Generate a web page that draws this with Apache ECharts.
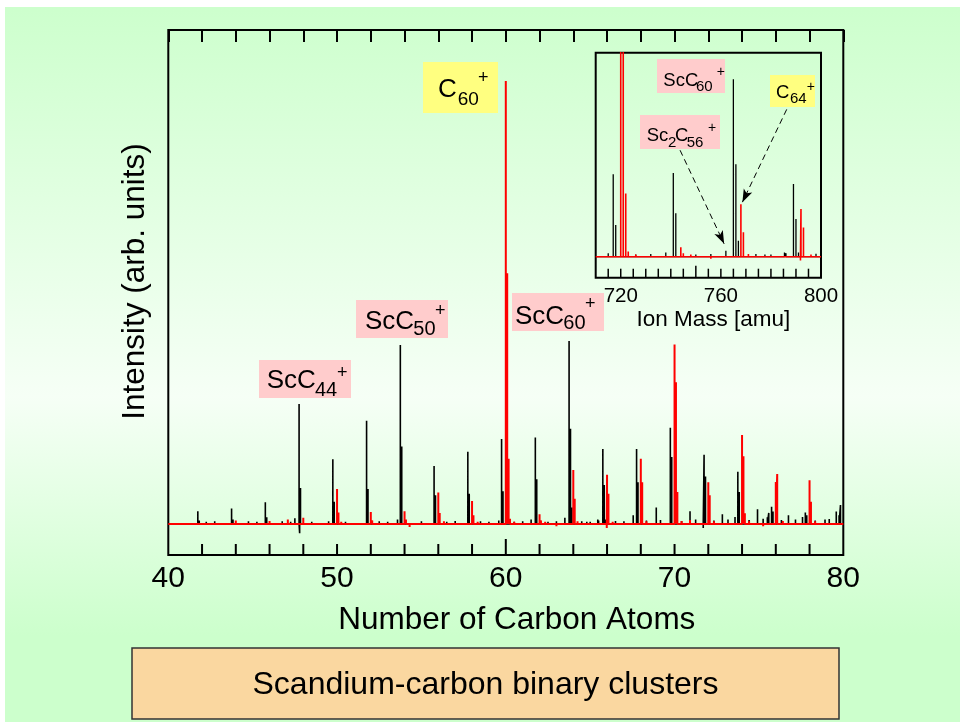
<!DOCTYPE html>
<html>
<head>
<meta charset="utf-8">
<script src="https://cdn.jsdelivr.net/npm/echarts@6/dist/echarts.min.js"></script>
<style>
  html, body { margin: 0; padding: 0; background: #fff; }
  #chart { width: 960px; height: 722px; }
</style>
</head>
<body>
<div id="chart"></div>
<script>
// Time-of-flight mass spectrum of scandium-carbon cluster ions.
// Peak positions are in amu, intensities in arbitrary units (C60+ = 100).

const carbonAxisTicks = [40, 50, 60, 70, 80];
const massAxisTicks = [720, 760, 800];

// ScCn+ / Sc2Cn+ peaks (black trace)
const scPeakAmu = [
  501, 502, 525, 526, 549, 550, 570, 573, 573.4, 574,
  597, 598, 621, 622, 643, 645, 646, 669, 670, 693, 694,
  715, 717, 718, 738, 741, 742, 762, 765, 766, 767,
  777.6, 785.4, 786, 789, 790, 791, 810.6, 813, 814, 827,
  837, 838, 851, 860.4, 861, 862, 874, 883, 885, 886,
  899, 906, 907, 909, 910, 921, 931, 933, 934, 947,
  955, 957, 958
];
const scPeakIntensity = [
  2.9, 0.8, 3.5, 1.0, 4.9, 1.5, 1.3, 27.1, -2.1, 8.1,
  14.6, 5.0, 23.3, 7.9, 1.0, 40.4, 17.5, 13.1, 6.5, 16.3, 6.8,
  0.8, 19.2, 7.4, 1.0, 19.5, 10.1, 1.4, 41.3, 21.5, 3.7,
  0.5, 1.0, 0.8, 16.9, 8.8, 1.0, 2.0, 16.9, 9.4, 3.7,
  21.7, 15.1, 2.9, -0.9, 15.6, 10.7, 2.2, 1.6, 11.8, 7.2,
  3.3, 1.5, 2.5, 3.9, 2.8, 2.0, 1.6, 2.6, 2.0, 1.0,
  2.8, 2.0, 4.3
];
// small baseline ripple on the black trace
const scRippleAmu = [
  486, 494, 507, 513, 519, 531, 537, 543, 555, 561, 567, 582, 588, 594,
  606, 612, 630, 636, 654, 660, 678, 684, 702, 708, 726, 732, 750, 756,
  774, 780, 798, 804, 820, 830, 845, 855, 868, 878, 893, 903, 916, 926,
  940, 950
];
const scRippleIntensity = [
  0.4, 0.3, 0.5, 0.6, 0.3, 0.4, 0.6, 0.5, 0.4, 0.6, 0.5, 0.5, 0.4, 0.6,
  0.5, 0.4, 0.6, 0.5, 0.4, 0.6, 0.5, 0.7, 0.6, 0.5, 0.5, 0.6, 0.5, 0.6,
  0.6, 0.5, 0.7, 0.6, 0.8, 0.9, 0.7, 1.0, 0.8, 1.0, 0.9, 1.2, 0.9, 1.0,
  0.8, 1.1
];

// Cn+ peaks (red trace)
const cPeakAmu = [
  528, 552, 565, 576, 600, 601, 624, 625, 648, 649, 651.6,
  672, 673, 696, 697, 720, 721, 722, 723, 744, 745,
  768, 769, 791.8, 792, 793, 816, 817, 840, 841, 842, 851,
  864, 865, 888, 889, 890, 912, 913, 936, 937
];
const cPeakIntensity = [
  0.8, 0.7, 1.0, 1.4, 7.9, 2.6, 2.7, 0.8, 2.9, 1.0, -0.7,
  7.1, 2.5, 5.2, 2.0, 100, 56.6, 14.7, 1.2, 2.2, 0.8,
  12.2, 5.7, -0.9, 11.1, 6.8, 14.7, 9.4, 40.5, 32.0, 7.2, 0.9,
  9.4, 6.5, 20.1, 15.3, 2.4, 9.5, 11.3, 9.9, 5.0
];
// small baseline ripple on the red trace
const cRippleAmu = [
  490, 502, 515, 540, 560, 580, 590, 603, 615, 627, 640, 660, 676, 684,
  700, 710, 726, 735, 748, 756, 771, 780, 796, 806, 820, 830, 845, 855,
  868, 878, 893, 903, 917, 925, 940, 950
];
const cRippleIntensity = [
  0.3, -0.3, 0.3, -0.3, 0.4, -0.3, 0.3, 0.5, -0.3, 0.4, 0.3, -0.4, 0.6, -0.3,
  0.5, -0.3, 0.5, -0.4, 0.5, -0.5, 0.6, -0.4, 0.5, -0.4, 0.6, -0.4, 0.7, -0.3,
  0.6, -0.4, 0.6, -0.5, 0.7, -0.4, 0.6, -0.4
];

// Arrows in the inset: [fromAmu, fromIntensity, toAmu, toIntensity]
const sc2C56Arrow = [743.7, 24.8, 761.3, 3.0];
const c64Arrow = [786.3, 34.3, 768.6, 12.7];

const FONT = '"Liberation Sans", Arial, Helvetica, sans-serif';
const CARBON_MASS = 12;

// axis ranges
const MAIN_X = [40, 80], MAIN_Y = [-7, 111.5];
const INSET_X = [710, 800], INSET_Y = [-4.89, 47.5];

// Turn a peak list into a stick spectrum: baseline -> peak top -> baseline for each peak.
function stickTrace(amu, intensity, divisor, lo, hi) {
  const order = amu.map((_, i) => i)
    .filter(i => amu[i] / divisor >= lo && amu[i] / divisor <= hi)
    .sort((a, b) => amu[a] - amu[b]);
  const pts = [[lo, 0]];
  order.forEach(i => {
    const x = amu[i] / divisor;
    pts.push([x, 0], [x, intensity[i]], [x, 0]);
  });
  pts.push([hi, 0]);
  return pts;
}

const scAmuAll = scPeakAmu.concat(scRippleAmu);
const scIntAll = scPeakIntensity.concat(scRippleIntensity);
const cAmuAll = cPeakAmu.concat(cRippleAmu);
const cIntAll = cPeakIntensity.concat(cRippleIntensity);

// Label box with chemical formula drawn piece by piece (subscripts / superscripts)
function formulaLabel(box, fill, pieces) {
  const children = [{
    type: 'rect',
    shape: { x: box[0], y: box[1], width: box[2], height: box[3] },
    style: { fill: fill }
  }];
  pieces.forEach(p => {
    children.push({
      type: 'text', x: p[1], y: p[2],
      style: {
        text: p[0], fontSize: p[3], fontFamily: FONT, fill: '#000',
        align: 'left', verticalAlign: 'middle'
      }
    });
  });
  return { type: 'group', z: 50, children: children };
}

const PINK = '#ffcccc';
const YELLOW = '#ffff80';

const chart = echarts.init(document.getElementById('chart'), null, { renderer: 'canvas' });

const hiddenY = {
  type: 'value', axisLine: { show: false, onZero: false }, axisTick: { show: false },
  axisLabel: { show: false }, splitLine: { show: false }
};

const graphics = [
  { type: 'rect', z: 1, shape: { x: 0, y: 0, width: 960, height: 7 }, style: { fill: '#ffffff' } },
  { type: 'rect', z: 1, shape: { x: 0, y: 0, width: 5, height: 722 }, style: { fill: '#ffffff' } },
  // caption box
  { type: 'rect', z: 5, shape: { x: 132, y: 648, width: 707, height: 71 },
    style: { fill: '#fad7a0', stroke: '#333333', lineWidth: 1.5 } },
  { type: 'text', z: 6, x: 485.5, y: 685,
    style: { text: 'Scandium-carbon binary clusters', fontSize: 32, fontFamily: FONT,
             fill: '#000', align: 'center', verticalAlign: 'middle' } },
  // main spectrum labels
  formulaLabel([423, 62, 75, 51], YELLOW,
    [['C', 438, 90.2, 26], ['60', 457.7, 100.1, 19], ['+', 478, 78, 18]]),
  formulaLabel([259, 360, 92, 38], PINK,
    [['ScC', 266.7, 381.2, 26], ['44', 315, 390.5, 20], ['+', 337, 373, 18]]),
  formulaLabel([356, 300, 92, 38], PINK,
    [['ScC', 365, 321.9, 26], ['50', 413.3, 329.8, 20], ['+', 435, 311, 18]]),
  formulaLabel([512, 293, 92, 38], PINK,
    [['ScC', 515, 316.9, 26], ['60', 563.3, 323.1, 20], ['+', 585, 304, 18]]),
  // inset labels
  formulaLabel([657, 59, 68, 34], PINK,
    [['ScC', 663.3, 81, 18.5], ['60', 696, 87, 15], ['+', 716.7, 71.7, 14]]),
  formulaLabel([640, 115, 80, 34], PINK,
    [['Sc', 646.7, 136, 18.5], ['2', 668, 142.6, 15], ['C', 675, 136, 18.5],
     ['56', 686.7, 142.6, 15], ['+', 708, 128.3, 14]]),
  formulaLabel([770, 75, 45, 32], YELLOW,
    [['C', 776, 92.6, 18.5], ['64', 790, 98.6, 15], ['+', 806.7, 86.7, 14]])
];

const option = {
  animation: false,
  backgroundColor: new echarts.graphic.LinearGradient(0, 0, 0, 1, [
    { offset: 0, color: '#ccffcc' },
    { offset: 0.55, color: '#f6fff6' },
    { offset: 0.88, color: '#ccffcc' },
    { offset: 1, color: '#ccffcc' }
  ]),
  grid: [
    { left: 168.3, top: 30, width: 675, height: 525, show: true,
      borderColor: '#000', borderWidth: 2, backgroundColor: 'transparent' },
    { left: 595.7, top: 52.7, width: 225.3, height: 225, show: true,
      borderColor: '#000', borderWidth: 2, backgroundColor: 'transparent' }
  ],
  xAxis: [
    { // 0: main, labels and title
      gridIndex: 0, type: 'value', position: 'bottom', min: MAIN_X[0], max: MAIN_X[1], interval: 2,
      axisLine: { show: false, onZero: false }, splitLine: { show: false },
      axisTick: { show: false },
      axisLabel: {
        show: true, margin: 9, fontSize: 30, fontFamily: FONT, color: '#000',
        formatter: v => carbonAxisTicks.includes(v) ? String(v) : ''
      },
      name: 'Number of Carbon Atoms', nameLocation: 'middle', nameGap: 49,
      nameTextStyle: { fontSize: 31.5, fontFamily: FONT, color: '#000', padding: [0, 0, 0, 22] }
    },
    { // 1: main, top ticks
      gridIndex: 0, type: 'value', position: 'top', min: MAIN_X[0], max: MAIN_X[1], interval: 2,
      axisLine: { show: false, onZero: false }, splitLine: { show: false },
      axisLabel: { show: false },
      axisTick: { show: true, inside: true, length: 12, lineStyle: { color: '#000', width: 2 } }
    },
    { // 2: inset, labels and title
      gridIndex: 1, type: 'value', position: 'bottom', min: INSET_X[0], max: INSET_X[1], interval: 5,
      axisLine: { show: false, onZero: false }, splitLine: { show: false },
      axisTick: { show: false },
      axisLabel: {
        show: true, margin: 8, fontSize: 20.5, fontFamily: FONT, color: '#000',
        formatter: v => massAxisTicks.includes(v) ? String(v) : ''
      },
      name: 'Ion Mass [amu]', nameLocation: 'middle', nameGap: 31,
      nameTextStyle: { fontSize: 22.5, fontFamily: FONT, color: '#000', padding: [0, 0, 0, 10] }
    }
  ],
  yAxis: [
    Object.assign({}, hiddenY, {
      gridIndex: 0, min: MAIN_Y[0], max: MAIN_Y[1],
      name: 'Intensity (arb. units)', nameLocation: 'middle', nameGap: 17,
      nameTextStyle: { fontSize: 31.5, fontFamily: FONT, color: '#000', padding: [0, 0, 0, 22] }
    }),
    Object.assign({}, hiddenY, { gridIndex: 1, min: INSET_Y[0], max: INSET_Y[1] })
  ],
  series: [
    {
      type: 'line', name: 'ScCn+', xAxisIndex: 0, yAxisIndex: 0, silent: true,
      symbol: 'none', showSymbol: false, clip: true,
      lineStyle: { color: '#000', width: 1.6 },
      data: stickTrace(scAmuAll, scIntAll, CARBON_MASS, MAIN_X[0], MAIN_X[1]), z: 2
    },
    {
      type: 'line', name: 'Cn+', xAxisIndex: 0, yAxisIndex: 0, silent: true,
      symbol: 'none', showSymbol: false, clip: true,
      lineStyle: { color: '#ff0000', width: 2 },
      data: stickTrace(cAmuAll, cIntAll, CARBON_MASS, MAIN_X[0], MAIN_X[1]), z: 3
    },
    {
      type: 'line', name: 'ScCn+ inset', xAxisIndex: 2, yAxisIndex: 1, silent: true,
      symbol: 'none', showSymbol: false, clip: true,
      lineStyle: { color: '#000', width: 1.3 },
      data: stickTrace(scAmuAll, scIntAll, 1, INSET_X[0], INSET_X[1]), z: 2
    },
    {
      type: 'line', name: 'Cn+ inset', xAxisIndex: 2, yAxisIndex: 1, silent: true,
      symbol: 'none', showSymbol: false, clip: true,
      lineStyle: { color: '#ff0000', width: 1.6 },
      data: stickTrace(cAmuAll, cIntAll, 1, INSET_X[0], INSET_X[1]), z: 3,
      markLine: {
        silent: true, animation: false,
        symbol: ['none', 'arrow'], symbolSize: [7, 13],
        label: { show: false },
        lineStyle: { color: '#000', width: 1, type: [6, 4] },
        emphasis: { disabled: true },
        data: [
          [{ coord: [sc2C56Arrow[0], sc2C56Arrow[1]] }, { coord: [sc2C56Arrow[2], sc2C56Arrow[3]] }],
          [{ coord: [c64Arrow[0], c64Arrow[1]] }, { coord: [c64Arrow[2], c64Arrow[3]] }]
        ]
      }
    }
  ],
  graphic: graphics
};

chart.setOption(option);

// Upward tick marks along the bottom frame edges, placed through the axes' own scales.
function bottomTicks(finder, xr, yr, step, lenPx, longAt, longPx, width) {
  const out = [];
  for (let v = xr[0] + step; v < xr[1] - 1e-9; v += step) {
    const p = chart.convertToPixel(finder, [v, yr[0]]);
    if (!p || !isFinite(p[0]) || !isFinite(p[1])) continue;
    const len = Math.abs(v - longAt) < 1e-9 ? longPx : lenPx;
    out.push({
      type: 'line', z: 100, silent: true,
      shape: { x1: p[0], y1: p[1], x2: p[0], y2: p[1] - len },
      style: { stroke: '#000', lineWidth: width }
    });
  }
  return out;
}

let tickMarks = [];
try {
  tickMarks = bottomTicks({ xAxisIndex: 0, yAxisIndex: 0 }, MAIN_X, MAIN_Y, 2, 11, 60, 16, 2)
    .concat(bottomTicks({ xAxisIndex: 2, yAxisIndex: 1 }, INSET_X, INSET_Y, 5, 9, 750, 12, 1.5));
} catch (e) {
  tickMarks = [];
}

chart.setOption({ graphic: graphics.concat(tickMarks) });
</script>
</body>
</html>
